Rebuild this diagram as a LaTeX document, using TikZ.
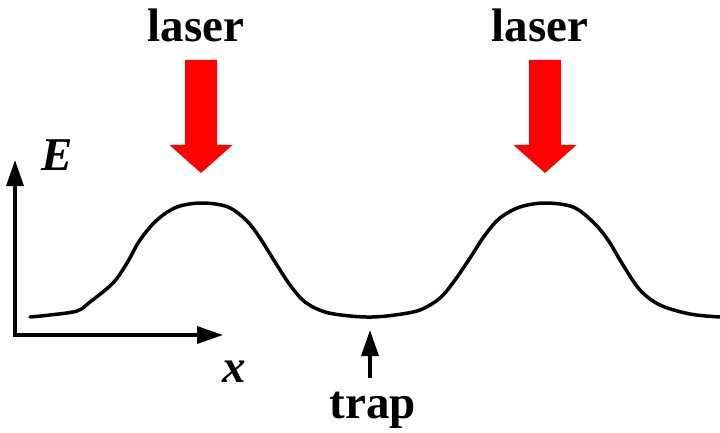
\documentclass[tikz,border=0pt]{standalone}
\usepackage{fontspec}
\setmainfont{Liberation Serif}
\usetikzlibrary{positioning, arrows.meta}
\definecolor{beam}{RGB}{255,0,0}
\definecolor{ink}{RGB}{0,0,0}

\begin{document}
\begin{tikzpicture}[x=1pt, y=-1pt]
  \tikzset{
    axis/.style={draw=ink, line width=3.3pt, -{Triangle[length=26pt, width=17pt]}},
    well/.style={draw=ink, line width=3.5pt, line join=round, line cap=round},
    lbl/.style={font=\fontsize{47}{50}\selectfont\bfseries, text=ink, inner sep=0pt},
    beamfill/.style={fill=beam}}
  \useasboundingbox (0,0) rectangle (720,433);

  % --- axes
  \coordinate (o) at (15,335);
  \coordinate (etip) at (15,160);
  \coordinate (xtip) at (223,335);
  \draw[axis] (o) -- (etip);
  \draw[axis] ([xshift=-1.6pt]o) -- (xtip);
  \node[lbl, anchor=base] (elbl) at (57,170) {\itshape E};
  \node[lbl, anchor=base] (xlbl) at (234,382) {\itshape x};

  % --- the potential
  \draw[well] plot[smooth, tension=0.55] coordinates {
    (30,317) (50,315) (77,311) (90,302) (113,283) (127,263) (140,240)
    (157,220) (177,207) (202,203) (228,207) (247,221) (260,238)
    (275,262) (290,285) (305,302) (325,312) (350,316) (372,317)
    (395,315) (420,310) (440,298) (455,280) (470,258) (485,235)
    (500,218) (520,207) (545,203) (573,207) (593,222) (608,240)
    (623,265) (640,290) (660,305) (690,314) (720,317)};

  % --- the two lasers
  \foreach \cx/\nm in {201/la, 545/lb} {
    \fill[beamfill] (\cx-16,60) -- (\cx+16,60) -- (\cx+16,145) -- (\cx+31.5,145)
      -- (\cx,173) -- (\cx-31.5,145) -- (\cx-16,145) -- cycle;
    \node[lbl, anchor=base] (\nm) at (\cx-5,42) {laser};
  }

  % --- the trap
  \node[lbl, anchor=base] (trap) at (373,418) {trap};
  \coordinate (bottom) at (370,330);
  \draw[axis] (370,378) -- (bottom);
\end{tikzpicture}
\end{document}
